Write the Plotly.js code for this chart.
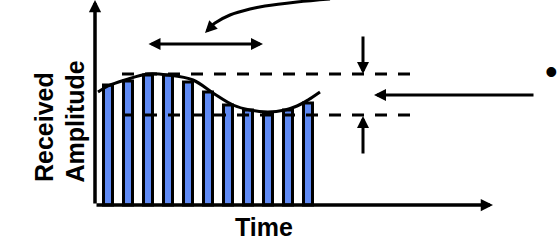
<!DOCTYPE html>
<html>
<head>
<meta charset="utf-8">
<script src="https://cdn.plot.ly/plotly-3.0.1.min.js"></script>
<style>html,body{margin:0;padding:0;background:#fff;}#chart{width:559px;height:250px;}</style>
</head>
<body>
<div id="chart"></div>
<script>
// Sample index (time) and received amplitude of each sample bar
const sampleTime = [1, 2, 3, 4, 5, 6, 7, 8, 9, 10, 11];
const sampleAmplitude = [120, 124, 130, 130, 123, 113, 100, 95, 92, 95, 102];

// Envelope of the received signal
const envelopeTime = [0.5, 1.0, 1.85, 3.0, 4.0, 5.25, 6.25, 7.25, 8.1, 9.0, 9.85, 10.45, 11.0, 11.6];
const envelopeAmplitude = [113, 119, 125, 131, 130, 125, 112, 100, 95, 93, 95, 99, 105, 113];

// Reference levels (max / min of the envelope)
const levelTime = [1.7, 16.2];
const upperLevel = [131, 131];
const lowerLevel = [90, 90];

// Call-out curve (top)
const calloutTime = [6.0, 6.35, 7.1, 8.1, 8.85, 10.45, 12.1];
const calloutAmplitude = [176, 182, 190, 196, 199, 203, 206];

const axisLabels = {x: 'Time', y1: 'Received', y2: 'Amplitude'};

const blue = '#5F8AF4';
const font = {family: 'Liberation Sans, Arial, sans-serif', size: 25, weight: 'bold', color: '#000'};

const traces = [
  {type: 'bar', x: sampleTime, y: sampleAmplitude, width: 0.45,
   marker: {color: blue, line: {color: '#000', width: 3}}, hoverinfo: 'skip'},
  {type: 'scatter', mode: 'lines', x: levelTime, y: upperLevel,
   line: {color: '#000', width: 3, dash: '12px,11px'}},
  {type: 'scatter', mode: 'lines', x: levelTime, y: lowerLevel,
   line: {color: '#000', width: 3, dash: '12px,11px'}},
  {type: 'scatter', mode: 'lines', x: envelopeTime, y: envelopeAmplitude,
   line: {color: '#000', width: 3, shape: 'spline', smoothing: 1}},
  {type: 'scatter', mode: 'lines', x: calloutTime, y: calloutAmplitude,
   line: {color: '#000', width: 3, shape: 'spline', smoothing: 1}, cliponaxis: true}
];

function arrow(x, y, ax, ay, opts) {
  return Object.assign({x: x, y: y, ax: ax, ay: ay, xref: 'x', yref: 'y', axref: 'x', ayref: 'y',
    text: '', showarrow: true, arrowhead: 2, arrowsize: 0.8, arrowwidth: 3, arrowcolor: '#000',
    standoff: 0, startstandoff: 0}, opts || {});
}

const annotations = [
  // axes
  arrow(0.35, 205, 0.35, 0, {arrowwidth: 3.5, arrowsize: 0.7}),
  arrow(20.25, 0, 0.35, 0, {arrowwidth: 3.5, arrowsize: 0.7}),
  // double-headed duration arrow
  arrow(8.75, 161, 2.95, 161, {arrowside: 'end+start', startarrowhead: 2, startarrowsize: 0.8}),
  // vertical level arrows
  arrow(13.75, 131, 13.75, 170),
  arrow(13.75, 89, 13.75, 50),
  // horizontal pointer
  arrow(14.3, 110, 22.35, 110),
  // call-out arrow head
  arrow(5.85, 172, 6.2, 179),
  // labels
  {x: 264, y: 227, xref: 'x', yref: 'y', text: axisLabels.x, showarrow: false, font: font},
  {x: 44, y: 127, xref: 'x', yref: 'y', text: axisLabels.y1, showarrow: false, textangle: -90, font: font},
  {x: 74, y: 121.5, xref: 'x', yref: 'y', text: axisLabels.y2, showarrow: false, textangle: -90, font: font},
  {x: 551, y: 71, xref: 'x', yref: 'y', text: '•', showarrow: false,
   font: {family: 'Liberation Sans, Arial, sans-serif', size: 36, color: '#000'}}
];

// Convert label pixel positions to data coordinates
annotations.forEach(a => {
  if (!a.showarrow) {
    a.x = (a.x - 88) / 20;
    a.y = 205 - a.y;
  }
});

const layout = {
  width: 559, height: 250,
  margin: {l: 0, r: 0, t: 0, b: 0},
  paper_bgcolor: '#fff', plot_bgcolor: '#fff',
  showlegend: false,
  xaxis: {range: [-4.4, 23.55], showgrid: false, zeroline: false, showticklabels: false, showline: false, ticks: ''},
  yaxis: {range: [-45, 205], showgrid: false, zeroline: false, showticklabels: false, showline: false, ticks: ''},
  annotations: annotations
};

Plotly.newPlot('chart', traces, layout, {staticPlot: true, displayModeBar: false});
</script>
</body>
</html>
